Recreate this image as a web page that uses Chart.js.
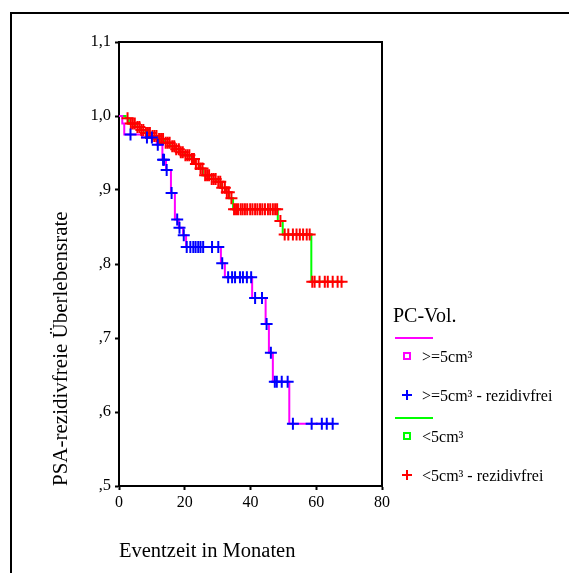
<!DOCTYPE html>
<html>
<head>
<meta charset="utf-8">
<script src="https://cdn.jsdelivr.net/npm/chart.js@4.4.1/dist/chart.umd.min.js"></script>
<style>
  body { margin: 0; background: #fff; }
  canvas { display: block; }
</style>
</head>
<body>
<canvas id="kmChart" width="569" height="573"></canvas>
<script>
// Kaplan-Meier: PSA-rezidivfreie Ueberlebensrate nach PC-Volumen
const xTickLabels = ['0', '20', '40', '60', '80'];
const yTickLabels = [',5', ',6', ',7', ',8', ',9', '1,0', '1,1'];

const legendTitle = 'PC-Vol.';
const legendLabels = ['>=5cm³', '>=5cm³ - rezidivfrei', '<5cm³', '<5cm³ - rezidivfrei'];

// >=5cm³ : step points (months, survival) and censored times
const bigTimes = [0, 1, 1.6, 7, 11.5, 13.2, 14.3, 15.8, 17, 18.2, 19.5, 20.4, 31, 32.2, 40.5, 44.6, 45.6, 46.8, 51.8, 65];
const bigSurv  = [1.0, 0.99, 0.975, 0.971, 0.961, 0.941, 0.927, 0.896, 0.860, 0.849, 0.839, 0.823, 0.801, 0.782, 0.754, 0.719, 0.680, 0.641, 0.584, 0.584];
const bigCensored = [3.5, 8.5, 10, 11.8, 13.4, 13.7, 14.5, 16, 17.7, 18.4, 19.7, 20.6, 21.7, 22.6, 23.3, 24.1, 24.8, 25.6,
  28.3, 30.2, 31.4, 33.2, 34.4, 35.3, 36.8, 37.7, 38.9, 40.2, 41.4, 43.5, 44.9, 46.2, 47.4, 48.0, 49.5, 51.3,
  52.9, 58.6, 61.7, 63.2, 65];

// <5cm³
const smallTimes = [0, 2, 3, 5, 6.5, 8, 10, 12, 14, 15.5, 17, 18.5, 20, 21.5, 23, 24.5, 25.5, 27.5, 29.5, 31, 32.5, 33.5, 34.7, 48.3, 49.8, 58.5, 67.7];
const smallSurv  = [1.0, 0.997, 0.99, 0.985, 0.981, 0.977, 0.973, 0.969, 0.964, 0.959, 0.955, 0.951, 0.947, 0.942, 0.935, 0.929, 0.92, 0.915, 0.911, 0.903, 0.897, 0.889, 0.874, 0.858, 0.840, 0.776, 0.776];
const smallCensored = [2.6, 3.6, 4.2, 4.8, 5.6, 6.2, 6.8, 7.4, 8.2, 8.8, 9.4, 10.2, 10.8, 11.4, 12.2, 12.8, 13.4, 14.2,
  14.8, 15.4, 16.2, 16.8, 17.4, 18.2, 18.8, 19.4, 20.2, 20.8, 21.4, 22.2, 22.8, 23.4, 24.2, 24.8, 25.4, 26.2,
  26.8, 27.4, 28.2, 28.8, 29.4, 30.2, 30.8, 31.4, 32.2, 32.8, 33.4, 34.2,
  35, 35.6, 36.2, 37, 37.6, 38.3, 39, 39.9, 40.6, 41.4, 42.1, 42.9, 43.6, 44.4, 45.3, 46, 46.8, 47.5, 48.1,
  49.1, 50.4, 51.5, 52.9, 54, 55, 56, 57.1, 58.0,
  58.8, 59.5, 61, 62.6, 63.5, 65, 66.5, 67.7];

// survival value in effect at time t
function survAt(times, surv, t) {
  let s = surv[0];
  for (let i = 0; i < times.length; i++) {
    if (times[i] <= t) s = surv[i];
  }
  return s;
}

const toPoints = (times, surv) => times.map((t, i) => ({ x: t, y: surv[i] }));
const toCensor = (cens, times, surv) => cens.map(t => ({ x: t, y: survAt(times, surv, t) }));

const serif = '"Liberation Serif", "Times New Roman", serif';

const framePlugin = {
  id: 'frame',
  beforeDraw(chart) {
    const ctx = chart.ctx;
    ctx.save();
    ctx.fillStyle = '#fff';
    ctx.fillRect(0, 0, chart.width, chart.height);
    ctx.strokeStyle = '#000';
    ctx.lineWidth = 2;
    ctx.beginPath();
    ctx.moveTo(11, chart.height);
    ctx.lineTo(11, 13);
    ctx.lineTo(chart.width, 13);
    ctx.stroke();
    ctx.restore();
  },
  beforeDatasetsDraw(chart) {
    const a = chart.chartArea;
    const ctx = chart.ctx;
    ctx.save();
    ctx.strokeStyle = '#000';
    ctx.lineWidth = 2;
    ctx.strokeRect(a.left, a.top, a.right - a.left, a.bottom - a.top);
    ctx.restore();
  }
};

// SPSS style legend on the right
const legendPlugin = {
  id: 'spssLegend',
  afterDraw(chart) {
    const ctx = chart.ctx;
    const x0 = chart.chartArea.right + 11;
    const mx = x0 + 14;
    const tx = x0 + 29;
    ctx.save();
    ctx.fillStyle = '#000';
    ctx.textBaseline = 'middle';
    ctx.font = '20px ' + serif;
    ctx.fillText(legendTitle, x0, 317);

    const groups = [
      { line: '#ff00ff', mark: '#0000ff', top: 338 },
      { line: '#00ff00', mark: '#ff0000', top: 418 }
    ];
    ctx.font = '16px ' + serif;
    groups.forEach((g, i) => {
      ctx.strokeStyle = g.line;
      ctx.lineWidth = 2;
      ctx.beginPath();
      ctx.moveTo(x0 + 2, g.top);
      ctx.lineTo(x0 + 40, g.top);
      ctx.stroke();
      // square
      ctx.strokeRect(mx - 3, g.top + 15, 6, 6);
      ctx.fillText(legendLabels[i * 2], tx, g.top + 20);
      // cross
      const cy = g.top + 57;
      ctx.strokeStyle = g.mark;
      ctx.beginPath();
      ctx.moveTo(mx - 5, cy); ctx.lineTo(mx + 5, cy);
      ctx.moveTo(mx, cy - 5); ctx.lineTo(mx, cy + 5);
      ctx.stroke();
      ctx.fillText(legendLabels[i * 2 + 1], tx, cy + 2);
    });
    ctx.restore();
  }
};

const ctx = document.getElementById('kmChart').getContext('2d');
const kmChart = new Chart(ctx, {
  type: 'scatter',
  data: {
    datasets: [
      {
        label: legendLabels[1],
        data: toCensor(bigCensored, bigTimes, bigSurv),
        pointStyle: 'cross',
        pointRadius: 6,
        pointBorderWidth: 2,
        pointBorderColor: '#0000ff',
        borderColor: '#0000ff',
        order: 0,
        clip: false
      },
      {
        label: legendLabels[3],
        data: toCensor(smallCensored, smallTimes, smallSurv),
        pointStyle: 'cross',
        pointRadius: 6,
        pointBorderWidth: 2,
        pointBorderColor: '#ff0000',
        borderColor: '#ff0000',
        order: 0,
        clip: false
      },
      {
        label: legendLabels[0],
        data: toPoints(bigTimes, bigSurv),
        showLine: true,
        stepped: true,
        borderColor: '#ff00ff',
        borderWidth: 2,
        pointRadius: 0,
        order: 1
      },
      {
        label: legendLabels[2],
        data: toPoints(smallTimes, smallSurv),
        showLine: true,
        stepped: true,
        borderColor: '#00ff00',
        borderWidth: 2,
        pointRadius: 0,
        order: 2
      }
    ]
  },
  options: {
    responsive: false,
    animation: false,
    layout: { padding: { left: 0, top: 42, right: 187, bottom: 0 } },
    plugins: {
      legend: { display: false },
      tooltip: { enabled: false }
    },
    scales: {
      x: {
        type: 'linear',
        min: 0,
        max: 80,
        afterFit(scale) { scale.height = 87; },
        border: { color: '#000', width: 2 },
        grid: { drawOnChartArea: false, tickLength: 4, tickWidth: 2, tickColor: '#000' },
        ticks: {
          stepSize: 20,
          padding: 3,
          color: '#000',
          font: { family: serif, size: 16 },
          callback: v => xTickLabels[Math.round(v / 20)]
        },
        title: {
          display: true,
          text: 'Eventzeit in Monaten',
          align: 'start',
          color: '#000',
          font: { family: serif, size: 20.5 },
          padding: { top: 0, bottom: 9 }
        }
      },
      y: {
        min: 0.5,
        max: 1.1,
        afterFit(scale) { scale.width = 119; },
        border: { color: '#000', width: 2 },
        grid: { drawOnChartArea: false, tickLength: 4, tickWidth: 2, tickColor: '#000' },
        ticks: {
          stepSize: 0.1,
          padding: 4,
          color: '#000',
          font: { family: serif, size: 16.5 },
          callback: v => yTickLabels[Math.round(v * 10) - 5]
        },
        title: {
          display: true,
          text: 'PSA-rezidivfreie Überlebensrate',
          align: 'start',
          color: '#000',
          font: { family: serif, size: 21 },
          padding: { top: 49, bottom: 0 }
        }
      }
    }
  },
  plugins: [framePlugin, legendPlugin]
});
</script>
</body>
</html>
